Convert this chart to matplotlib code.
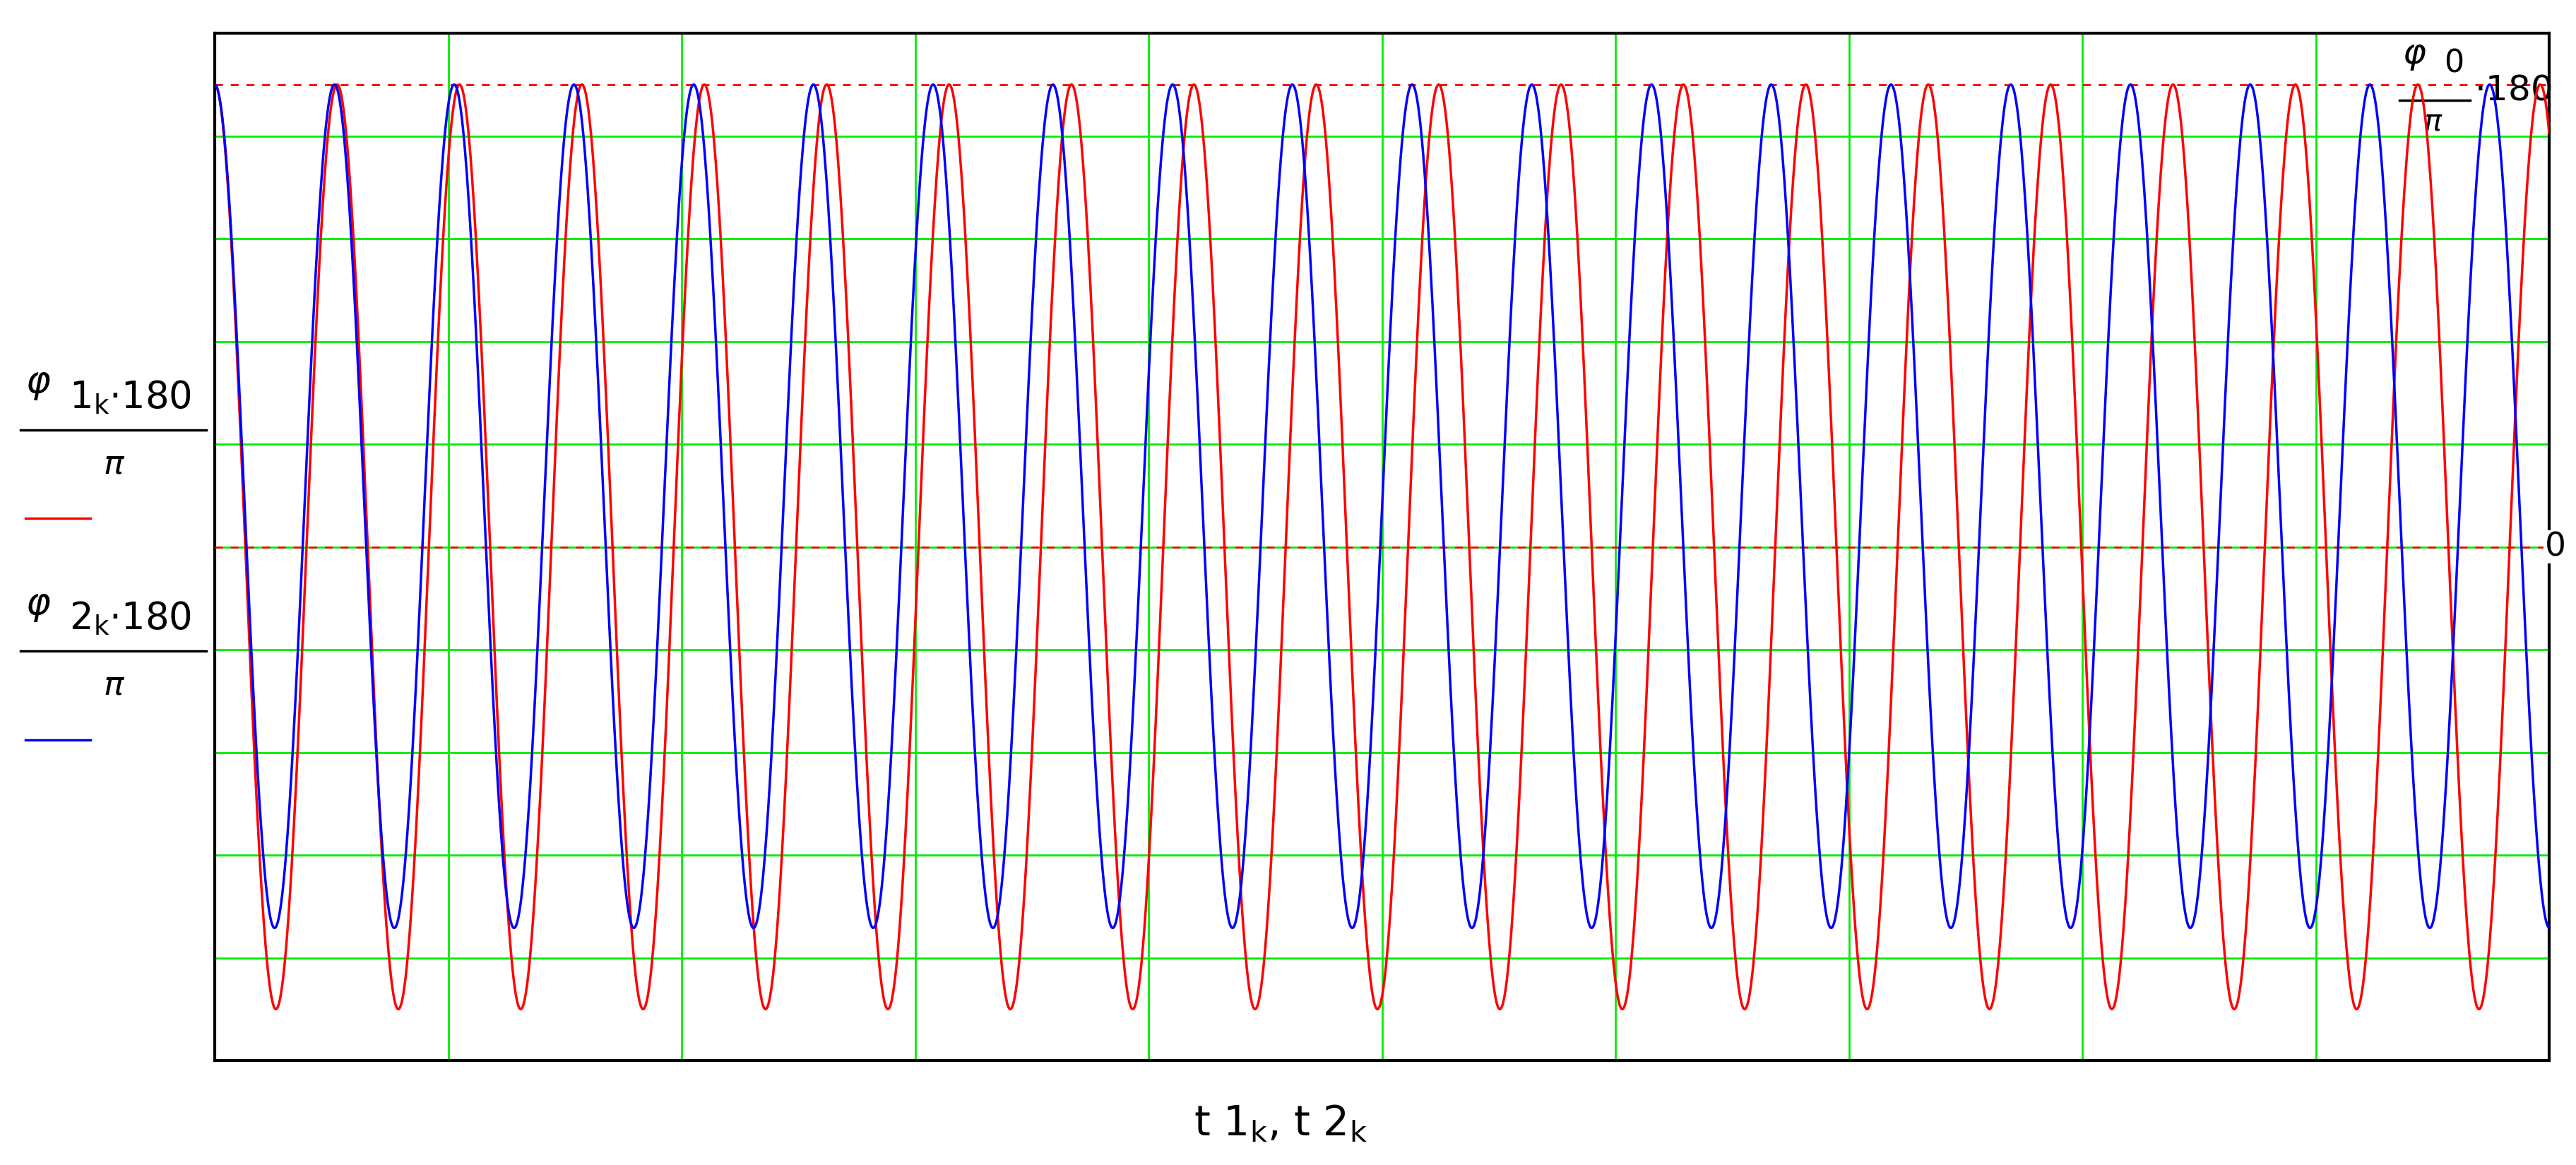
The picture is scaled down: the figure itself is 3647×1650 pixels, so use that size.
import numpy as np
import matplotlib.pyplot as plt
from matplotlib.lines import Line2D

# values (degrees, time units of the grid)
phi0 = 45.0
red_max, red_min, red_period = 45.0, -45.0, 0.5243
blue_max, blue_min, blue_period = 45.0, -37.1, 0.5129
t_end = 10.0
y_lo, y_hi = -50.0, 50.0

t = np.linspace(0, t_end, 4000)
red = (red_max + red_min) / 2 + (red_max - red_min) / 2 * np.cos(2 * np.pi * t / red_period)
blue = (blue_max + blue_min) / 2 + (blue_max - blue_min) / 2 * np.cos(2 * np.pi * t / blue_period)

fig = plt.figure(figsize=(36.48, 16.5), dpi=100)
ax = fig.add_axes([304 / 3648, 1 - 1502 / 1650, (3609 - 304) / 3648, (1502 - 47) / 1650])

ax.set_xlim(0, t_end)
ax.set_ylim(y_lo, y_hi)
ax.set_xticks(np.arange(0, 10.01, 1))
ax.set_yticks(np.arange(-50, 50.01, 10))
ax.grid(True, color='#00ee00', lw=2)
ax.tick_params(length=0, labelleft=False, labelbottom=False)
for s in ax.spines.values():
    s.set_linewidth(3)

ax.axhline(phi0, color='red', ls=(0, (4, 4)), lw=2, zorder=3)
ax.axhline(0, color='red', ls=(0, (4, 4)), lw=2, zorder=3)
ax.plot(t, red, color='red', lw=2.5, zorder=4)
ax.plot(t, blue, color='blue', lw=2.5, zorder=5)

# right side labels
ax.text(0.998, 0.5, '0', transform=ax.transAxes, fontsize=34, va='center', ha='left',
        bbox=dict(fc='white', ec='none', pad=1))
ax.text(0.937, 0.995, r'$\varphi$', transform=ax.transAxes, fontsize=36, va='top')
ax.text(0.955, 0.985, '0', transform=ax.transAxes, fontsize=32, va='top')
ax.add_line(Line2D([0.936, 0.966], [0.935, 0.935], transform=ax.transAxes, color='black', lw=2.5))
ax.text(0.946, 0.928, r'$\pi$', transform=ax.transAxes, fontsize=30, va='top')
ax.text(0.968, 0.945, '$\\cdot$180', transform=ax.transAxes, fontsize=36, va='center')

# left y-label (Mathcad style)
def frac(y, idx, col):
    fig.text(0.010, y, r'$\varphi$', fontsize=38, va='bottom')
    fig.text(0.027, y - 0.012, f'{idx}$_{{\\mathrm{{k}}}}$$\\cdot$180', fontsize=38, va='bottom')
    fig.add_artist(Line2D([0.008, 0.080], [y - 0.024, y - 0.024], color='black', lw=2.5))
    fig.text(0.040, y - 0.04, r'$\pi$', fontsize=34, va='top')
    fig.add_artist(Line2D([0.010, 0.035], [y - 0.1, y - 0.1], color=col, lw=2.5))

frac(0.655, '1', 'red')
frac(0.465, '2', 'blue')

fig.text(0.497, 0.025, r't 1$_{\mathrm{k}}$, t 2$_{\mathrm{k}}$', fontsize=42, ha='center')

fig.savefig('out.png', dpi=100)
